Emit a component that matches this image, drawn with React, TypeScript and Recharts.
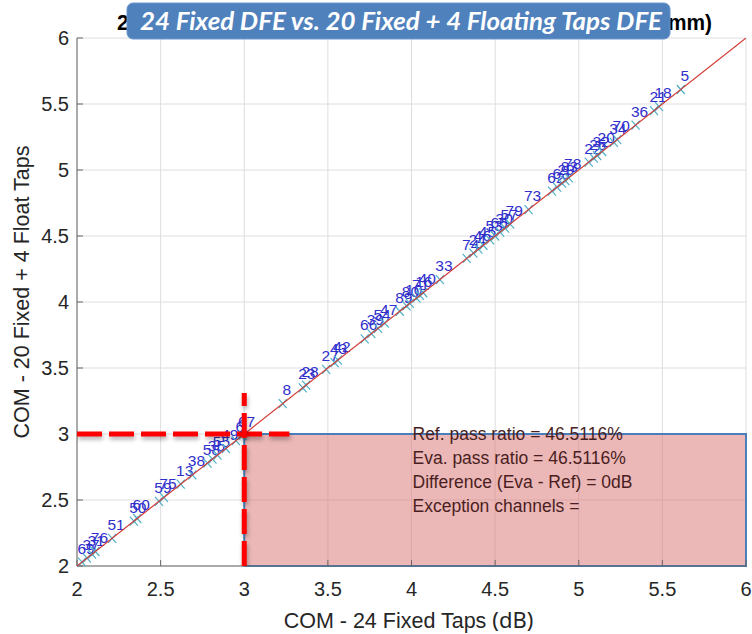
import React from 'react';
import {
  ScatterChart,
  Scatter,
  XAxis,
  YAxis,
  CartesianGrid,
  ReferenceArea,
  ReferenceDot,
  Label,
} from 'recharts';

// channel ids and COM values (dB)
const channelIds = [
  69, 37, 31, 76, 51, 50, 60, 59, 75, 13, 38, 58, 35, 55, 49, 6, 67, 8, 23, 28, 27, 43, 42, 66, 39, 54,
  47, 89, 80, 10, 71, 16, 40, 33, 74, 24, 46, 45, 53, 65, 30, 57, 79, 73, 62, 63, 29, 83, 78, 22, 25, 32,
  20, 34, 70, 36, 21, 18, 5,
];
const comFixed24 = [
  2.03, 2.06, 2.09, 2.11, 2.21, 2.34, 2.36, 2.49, 2.52, 2.62, 2.69, 2.78, 2.81, 2.84, 2.89, 2.95, 2.99,
  3.23, 3.35, 3.37, 3.49, 3.54, 3.56, 3.72, 3.76, 3.8, 3.84, 3.93, 3.97, 3.99, 4.03, 4.05, 4.07, 4.17,
  4.33, 4.37, 4.4, 4.43, 4.47, 4.5, 4.53, 4.56, 4.59, 4.7, 4.84, 4.87, 4.9, 4.92, 4.94, 5.06, 5.09, 5.11,
  5.14, 5.21, 5.23, 5.34, 5.45, 5.48, 5.61,
];
const comFloat20p4 = [
  2.03, 2.06, 2.09, 2.11, 2.21, 2.34, 2.36, 2.49, 2.52, 2.62, 2.69, 2.78, 2.81, 2.84, 2.89, 2.95, 2.99,
  3.23, 3.35, 3.37, 3.49, 3.54, 3.56, 3.72, 3.76, 3.8, 3.84, 3.93, 3.97, 3.99, 4.03, 4.05, 4.07, 4.17,
  4.33, 4.37, 4.4, 4.43, 4.47, 4.5, 4.53, 4.56, 4.59, 4.7, 4.84, 4.87, 4.9, 4.92, 4.94, 5.06, 5.09, 5.11,
  5.14, 5.21, 5.23, 5.34, 5.45, 5.48, 5.61,
];
const axisTicks = [2, 2.5, 3, 3.5, 4, 4.5, 5, 5.5, 6];
const passLimit = 3;
const summaryLines = [
  'Ref. pass ratio = 46.5116%',
  'Eva. pass ratio = 46.5116%',
  'Difference (Eva - Ref) = 0dB',
  'Exception channels =',
];

const points = channelIds.map((id, i) => ({ id, x: comFixed24[i], y: comFloat20p4[i] }));
const diagonal = [
  { x: axisTicks[0], y: axisTicks[0] },
  { x: axisTicks[axisTicks.length - 1], y: axisTicks[axisTicks.length - 1] },
];
const hLimit = [
  { x: 2, y: passLimit },
  { x: 3.27, y: passLimit },
];
const vLimit = [
  { x: passLimit, y: 2 },
  { x: passLimit, y: 3.31 },
];

const FONT = '"Liberation Sans", Arial, sans-serif';
const AXIS = '#666666';

function ChannelMark(props: any) {
  const { cx, cy, payload } = props;
  if (cx == null || cy == null) return <g />;
  return (
    <g>
      <path
        d={`M${cx - 4},${cy - 4.5}L${cx + 4},${cy + 4.5}M${cx - 4},${cy + 4.5}L${cx + 4},${cy - 4.5}`}
        stroke="#4fb0c6"
        strokeWidth={1.2}
        fill="none"
      />
      <text
        x={cx + 4}
        y={cy - 14}
        textAnchor="middle"
        dominantBaseline="central"
        fontFamily={FONT}
        fontSize={15.5}
        fill="#2f2fcc"
      >
        {payload.id}
      </text>
    </g>
  );
}

function SummaryText(props: any) {
  const vb = props.viewBox || {};
  const x = (vb.x ?? 0) + 1;
  const y = vb.y ?? 0;
  return (
    <g>
      {summaryLines.map((line, i) => (
        <text
          key={line}
          x={x}
          y={y + i * 24}
          dominantBaseline="central"
          fontFamily={FONT}
          fontSize={17.5}
          fill="#4a1e1e"
        >
          {line}
        </text>
      ))}
    </g>
  );
}

function XLabel(props: any) {
  const vb = props.viewBox || {};
  const cx = vb.x + vb.width / 2;
  return (
    <text x={cx - 3} y={628} textAnchor="middle" fontFamily={FONT} fontSize={21.5} fill="#262626">
      COM - 24 Fixed Taps{'  '}
      <tspan fontFamily='"Noto Sans", sans-serif' fontSize={22}>
        (dB)
      </tspan>
    </text>
  );
}

function YLabel(props: any) {
  const vb = props.viewBox || {};
  const cy = vb.y + vb.height / 2 - 10;
  return (
    <text
      x={22}
      y={cy}
      transform={`rotate(-90 22 ${cy})`}
      textAnchor="middle"
      dominantBaseline="central"
      fontFamily={FONT}
      fontSize={21.5}
      fill="#262626"
    >
      COM - 20 Fixed + 4 Float Taps
    </text>
  );
}

const tickStyle = { fontSize: 20, fill: '#262626', fontFamily: FONT };

export default function App() {
  return (
    <div style={{ position: 'absolute', left: 0, top: 0, width: 752, height: 634, background: '#fff' }}>
      <style>{`.thr path { filter: drop-shadow(1px 3px 2px rgba(0,0,0,0.3)); }
.pass-box rect { filter: drop-shadow(2px 3px 2px rgba(0,0,0,0.25)); }`}</style>
      <ScatterChart width={752} height={634} margin={{ top: 38, right: 6, bottom: 0, left: 0 }}>
        <CartesianGrid stroke="#dedede" strokeWidth={1} />
        <XAxis
          type="number"
          dataKey="x"
          domain={[2, 6]}
          ticks={axisTicks}
          allowDataOverflow
          height={68}
          tickSize={-6}
          tickMargin={22}
          tick={tickStyle}
          stroke={AXIS}
          tickFormatter={(v) => String(v)}
        >
          <Label content={<XLabel />} />
        </XAxis>
        <XAxis
          xAxisId="top"
          orientation="top"
          type="number"
          domain={[2, 6]}
          ticks={axisTicks}
          allowDataOverflow
          height={0}
          tickSize={-6}
          tick={false}
          stroke={AXIS}
        />
        <YAxis
          type="number"
          dataKey="y"
          domain={[2, 6]}
          ticks={axisTicks}
          allowDataOverflow
          width={77}
          tickSize={-6}
          tickMargin={14}
          tick={tickStyle}
          stroke={AXIS}
          tickFormatter={(v) => String(v)}
        >
          <Label content={<YLabel />} />
        </YAxis>
        <YAxis
          yAxisId="right"
          orientation="right"
          type="number"
          domain={[2, 6]}
          ticks={axisTicks}
          allowDataOverflow
          width={0}
          tickSize={-6}
          tick={false}
          stroke={AXIS}
        />
        <ReferenceArea
          className="pass-box"
          x1={passLimit}
          x2={6}
          y1={2}
          y2={passLimit}
          fill="#d87070"
          fillOpacity={0.5}
          stroke="none"
          ifOverflow="visible"
        />
        <ReferenceDot x={4} y={passLimit} r={0} fill="none" stroke="none">
          <Label content={<SummaryText />} />
        </ReferenceDot>
        <ReferenceArea
          x1={passLimit}
          x2={6}
          y1={2}
          y2={passLimit}
          fill="none"
          stroke="#4a7ebb"
          strokeWidth={2}
          ifOverflow="visible"
        />
        <Scatter data={points} shape={<ChannelMark />} isAnimationActive={false} />
        <Scatter
          data={diagonal}
          line={{ stroke: '#d23a36', strokeWidth: 1.2 }}
          shape={() => <g />}
          isAnimationActive={false}
        />
        <Scatter
          className="thr"
          data={hLimit}
          line={{ stroke: '#ff0000', strokeWidth: 5, strokeDasharray: '25 7' }}
          shape={() => <g />}
          isAnimationActive={false}
        />
        <Scatter
          className="thr"
          data={vLimit}
          line={{ stroke: '#ff0000', strokeWidth: 5, strokeDasharray: '25 7' }}
          shape={() => <g />}
          isAnimationActive={false}
        />
      </ScatterChart>
      <svg
        width={752}
        height={44}
        style={{ position: 'absolute', left: 0, top: 0, pointerEvents: 'none' }}
      >
        <text
          x={117}
          y={30}
          textLength={595}
          lengthAdjust="spacingAndGlyphs"
          fontFamily={FONT}
          fontWeight="bold"
          fontSize={22}
          fill="#000"
        >
          24 Fixed vs. 20 Fixed + 4 Floating Taps (Channel Set, 12mm)
        </text>
        <rect x={127} y={3} width={543} height={36} rx={6} fill="#4f81bd" stroke="#6b96cc" strokeWidth={1} />
        <text
          x={140}
          y={30}
          textLength={522}
          lengthAdjust="spacingAndGlyphs"
          fontFamily='Lato, "Open Sans", sans-serif'
          fontWeight="bold"
          fontStyle="italic"
          fontSize={24}
          fill="#ffffff"
        >
          24 Fixed DFE vs. 20 Fixed + 4 Floating Taps DFE
        </text>
      </svg>
    </div>
  );
}
